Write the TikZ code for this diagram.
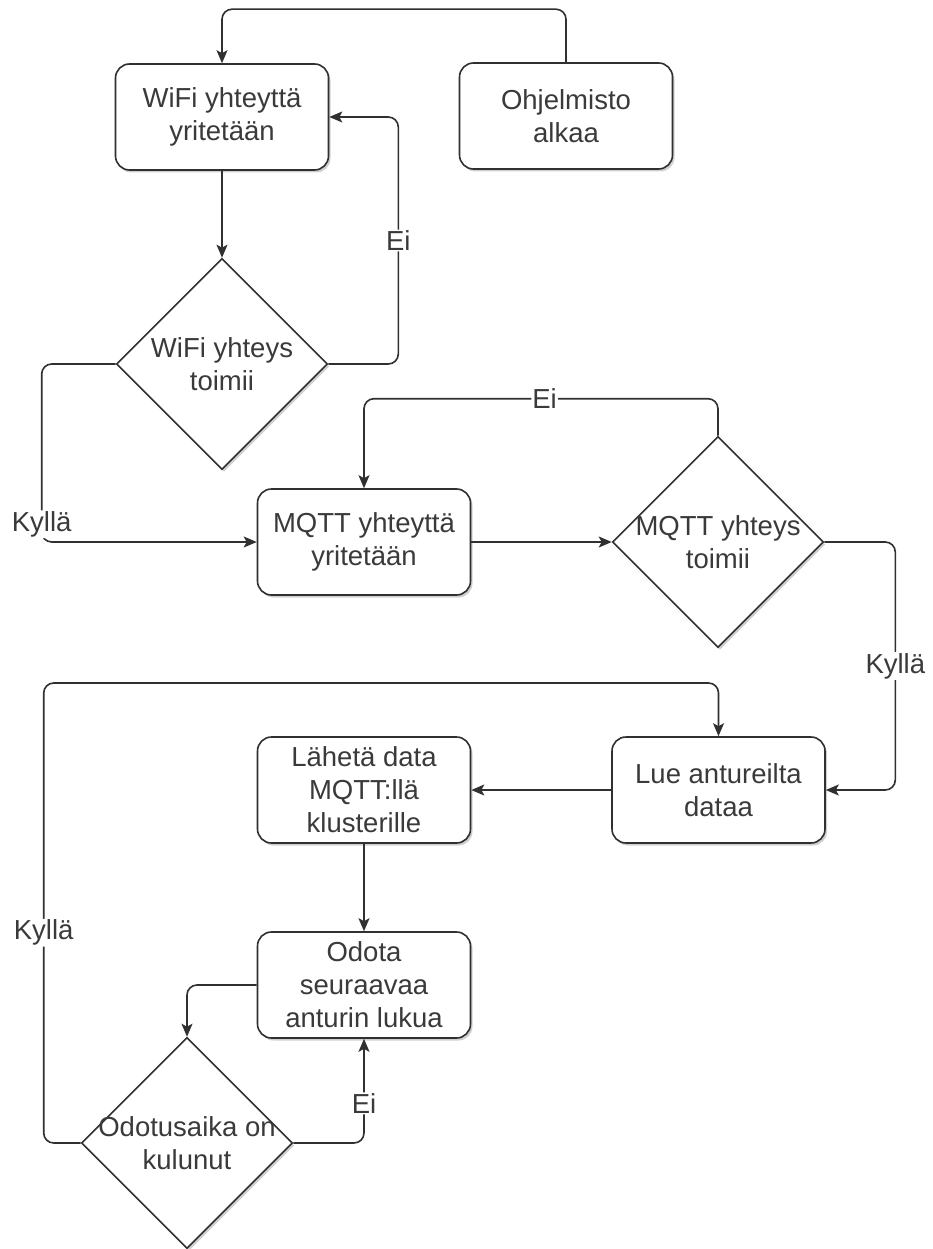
\documentclass[tikz,border=0pt]{standalone}
\usepackage{fontspec}
\setmainfont{Liberation Sans}
\usetikzlibrary{shapes.geometric,arrows.meta,shadows}
\definecolor{ink}{HTML}{303030}
\definecolor{txt}{HTML}{3A3A3A}
\newcommand\chartfont{\fontsize{27.5}{33}\selectfont}

\begin{document}
\begin{tikzpicture}[x=1pt,y=-1pt,
  soft/.style={drop shadow={shadow xshift=2pt,shadow yshift=-2.5pt,opacity=0.3,fill=black!60}},
  stepbox/.style={draw=ink,line width=1.6pt,rounded corners=14pt,fill=white,soft,
    minimum width=213pt,minimum height=106pt,inner sep=2pt,
    align=center,text=txt,font=\chartfont},
  decision/.style={shape=diamond,draw=ink,line width=1.6pt,fill=white,soft,
    minimum width=211pt,minimum height=211pt,inner sep=0pt},
  dtext/.style={align=center,text=txt,font=\chartfont,inner sep=0pt},
  flow/.style={draw=ink,line width=1.6pt,rounded corners=10pt,
    -{Stealth[length=13pt,width=11pt,inset=3pt]}},
  lbl/.style={fill=white,text=txt,font=\chartfont,inner sep=1pt}]

\useasboundingbox (0,0) rectangle (932,1249);
\fill[white] (0,0) rectangle (932,1249);

% process boxes
\node[stepbox] (wifi)  at (222,117)   {WiFi yhteyttä\\yritetään};
\node[stepbox] (start) at (566,116)   {Ohjelmisto\\alkaa};
\node[stepbox] (mqtt)  at (364,542)   {MQTT yhteyttä\\yritetään};
\node[stepbox] (lue)   at (718.5,790) {Lue antureilta\\dataa};
\node[stepbox] (send)  at (364,790)   {Lähetä data\\MQTT:llä\\klusterille};
\node[stepbox] (odota) at (364,985)   {Odota\\seuraavaa\\anturin lukua};

% decisions
\node[decision,label={[dtext]center:WiFi yhteys\\toimii}] (wd) at (222,364) {};
\node[decision,label={[dtext]center:MQTT yhteys\\toimii}] (md) at (718,542) {};
\node[decision,label={[dtext]center:Odotusaika on\\kulunut}] (wait) at (187,1143) {};

% connectors
\draw[flow] (start.north) -- ++(0,-53) -| (wifi.north);
\draw[flow] (wifi.south) -- (wd.north);
\draw[flow] (wd.east) -- ++(70,0) |- node[lbl,pos=0.25] {Ei} (wifi.east);
\draw[flow] (wd.west) -- ++(-74,0) |- node[lbl,pos=0.45] {Kyllä} (mqtt.west);
\draw[flow] (mqtt.east) -- (md.west);
\draw[flow] (md.north) -- ++(0,-37) -| node[lbl,pos=0.245] {Ei} (mqtt.north);
\draw[flow] (md.east) -- ++(71,0) |- node[lbl,pos=0.25] {Kyllä} (lue.east);
\draw[flow] (lue.west) -- (send.east);
\draw[flow] (send.south) -- (odota.north);
\draw[flow] (odota.west) -| (wait.north);
\draw[flow] (wait.east) -| node[lbl,pos=0.69] {Ei} (odota.south);
\draw[flow] (wait.west) -- ++(-37,0) -- node[lbl,pos=0.457] {Kyllä} ++(0,-460) -| (lue.north);

\end{tikzpicture}
\end{document}
